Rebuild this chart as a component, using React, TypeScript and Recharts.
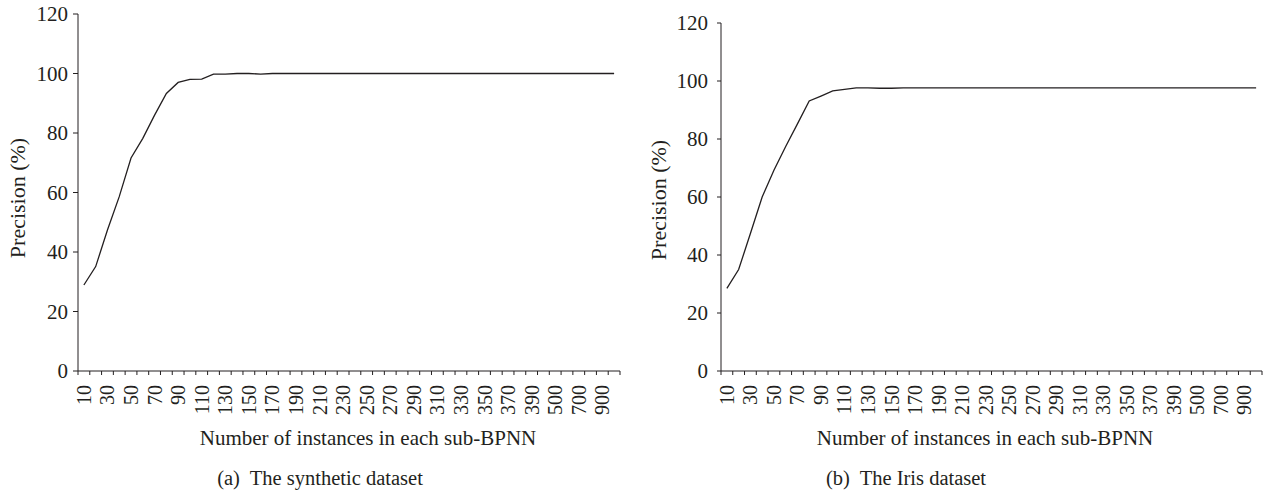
import React from 'react';
import { Label, Line, LineChart, XAxis, YAxis } from 'recharts';

// sub-BPNN sizes on the x axis
const categories = [
  '10', '20', '30', '40', '50', '60', '70', '80', '90', '100',
  '110', '120', '130', '140', '150', '160', '170', '180', '190', '200',
  '210', '220', '230', '240', '250', '260', '270', '280', '290', '300',
  '310', '320', '330', '340', '350', '360', '370', '380', '390', '400',
  '500', '600', '700', '800', '900', '1000',
];

// precision (%) for the synthetic dataset
const syntheticPrecision = [
  28.9, 35.1, 47.4, 58.6, 71.6, 78.2, 86.0, 93.3, 97.0, 98.0,
  98.1, 99.8, 99.8, 100, 100, 99.8, 100, 100, 100, 100,
  100, 100, 100, 100, 100, 100, 100, 100, 100, 100,
  100, 100, 100, 100, 100, 100, 100, 100, 100, 100,
  100, 100, 100, 100, 100, 100,
];

// precision (%) for the Iris dataset
const irisPrecision = [
  28.5, 35.0, 47.4, 60.0, 69.2, 77.4, 85.2, 93.1, 94.8, 96.6,
  97.1, 97.6, 97.6, 97.5, 97.5, 97.6, 97.6, 97.6, 97.6, 97.6,
  97.6, 97.6, 97.6, 97.6, 97.6, 97.6, 97.6, 97.6, 97.6, 97.6,
  97.6, 97.6, 97.6, 97.6, 97.6, 97.6, 97.6, 97.6, 97.6, 97.6,
  97.6, 97.6, 97.6, 97.6, 97.6, 97.6,
];

const yTicks = [0, 20, 40, 60, 80, 100, 120];

const INK = '#231f20';
const FONT = '"Liberation Serif", "Times New Roman", serif';
const PANEL_W = 634;
const PANEL_H = 494;
const AXIS_Y = 371;

const toRows = (values: number[]) => categories.map((n, i) => ({ n, v: values[i] }));

const renderTick = (props: any, step: number) => {
  const { x, y, payload } = props;
  const i = payload.index;
  const ty = y + 14;
  return (
    <g>
      <line x1={x - step / 2} y1={y} x2={x - step / 2} y2={y + 4} stroke={INK} />
      {i === categories.length - 1 && (
        <line x1={x + step / 2} y1={y} x2={x + step / 2} y2={y + 4} stroke={INK} />
      )}
      {i % 2 === 0 && (
        <text
          x={x}
          y={ty}
          transform={`rotate(-90, ${x}, ${ty})`}
          textAnchor="end"
          dominantBaseline="central"
          fontSize={20}
          fill={INK}
          fontFamily={FONT}
        >
          {payload.value}
        </text>
      )}
    </g>
  );
};

interface PanelProps {
  left: number;
  values: number[];
  axisX: number; // y-axis position inside the panel
  plotRight: number;
  plotTop: number;
  tickGap: number;
  tickLen: number;
  yTitleX: number;
  yTitleY: number;
  xTitleX: number;
  captionX: number;
  caption: string;
}

const Panel = ({
  left, values, axisX, plotRight, plotTop, tickGap, tickLen,
  yTitleX, yTitleY, xTitleX, captionX, caption,
}: PanelProps) => {
  const step = (plotRight - axisX) / categories.length;
  return (
    <div style={{ position: 'absolute', left, top: 0, width: PANEL_W, height: PANEL_H }}>
      <LineChart
        width={PANEL_W}
        height={PANEL_H}
        data={toRows(values)}
        margin={{ top: plotTop, right: PANEL_W - plotRight, left: 0, bottom: 0 }}
      >
        <XAxis
          dataKey="n"
          height={PANEL_H - AXIS_Y}
          interval={0}
          tickSize={0}
          tickMargin={0}
          tickLine={false}
          axisLine={{ stroke: INK }}
          padding={{ left: step / 2, right: step / 2 }}
          tick={(p: any) => renderTick(p, step)}
        >
          <Label
            content={() => (
              <text x={xTitleX} y={438} textAnchor="middle" dominantBaseline="central"
                fontSize={21} fill={INK} fontFamily={FONT}>
                Number of instances in each sub-BPNN
              </text>
            )}
          />
        </XAxis>
        <YAxis
          width={axisX}
          domain={[0, 120]}
          ticks={yTicks}
          interval={0}
          tickSize={tickLen}
          tickMargin={tickGap}
          axisLine={{ stroke: INK }}
          tickLine={{ stroke: INK }}
          tick={{ fill: INK, fontSize: 21, fontFamily: FONT }}
        >
          <Label
            content={() => (
              <text x={yTitleX} y={yTitleY} transform={`rotate(-90, ${yTitleX}, ${yTitleY})`}
                textAnchor="middle" dominantBaseline="central"
                fontSize={22} fill={INK} fontFamily={FONT}>
                Precision (%)
              </text>
            )}
          />
        </YAxis>
        <Line
          type="linear"
          dataKey="v"
          stroke={INK}
          strokeWidth={1.3}
          dot={false}
          isAnimationActive={false}
        />
      </LineChart>
      <div
        style={{
          position: 'absolute', left: captionX - 200, width: 400, top: 465,
          textAlign: 'center', fontFamily: FONT, fontSize: 20.5, lineHeight: '26px', color: INK,
          whiteSpace: 'pre',
        }}
      >
        {caption}
      </div>
    </div>
  );
};

export default function App() {
  return (
    <div style={{ position: 'absolute', left: 0, top: 0, width: 1268, height: 494, background: '#fff' }}>
      <Panel
        left={0}
        values={syntheticPrecision}
        axisX={78}
        plotRight={620}
        plotTop={14}
        tickLen={5}
        tickGap={5}
        yTitleX={17}
        yTitleY={198}
        xTitleX={368}
        captionX={320}
        caption="(a)  The synthetic dataset"
      />
      <Panel
        left={634}
        values={irisPrecision}
        axisX={87}
        plotRight={628}
        plotTop={23}
        tickLen={4}
        tickGap={9}
        yTitleX={24}
        yTitleY={200}
        xTitleX={351}
        captionX={272}
        caption="(b)  The Iris dataset"
      />
    </div>
  );
}
